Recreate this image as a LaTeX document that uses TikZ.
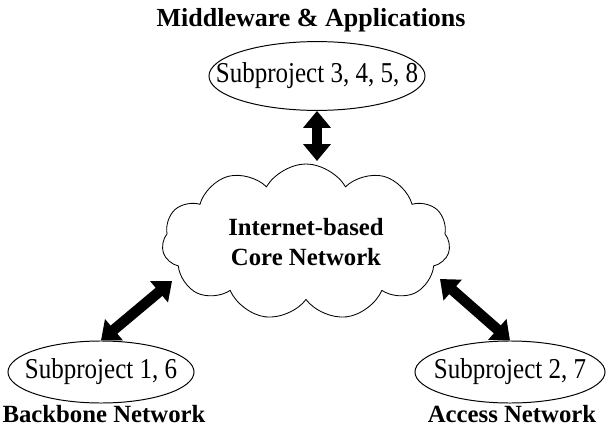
\documentclass[tikz,border=0pt]{standalone}
\usepackage{fontspec}
\setmainfont{Liberation Serif}
\usetikzlibrary{shapes.geometric,shapes.symbols,arrows.meta}

\newcommand{\subfont}{\fontsize{17.8}{20}\selectfont}
\newcommand{\netfont}{\fontsize{17.6}{21.4}\selectfont\bfseries}
\newcommand{\tall}[1]{\scalebox{1}[1.15]{#1}}

\tikzset{
  subproj/.style={ellipse, draw, line width=0.7pt, inner sep=0pt},
  every label/.style={font=\subfont, inner sep=0pt},
  netlabel/.style={font=\netfont, inner sep=0pt},
  link/.style={line width=7.5pt, {Triangle[length=12pt,width=19pt]}-{Triangle[length=12pt,width=19pt]}},
}

\begin{document}
\begin{tikzpicture}[x=0.025cm, y=-0.025cm]
\useasboundingbox (0,0) rectangle (608,428);

% the three groups of subprojects
\node[subproj, minimum width=5.4cm, minimum height=1.72cm,
      label={center:\tall{Subproject 3, 4, 5, 8}}] (sub3) at (317,76) {};
\node[subproj, minimum width=4.65cm, minimum height=1.55cm,
      label={center:\tall{Subproject 1, 6}}] (sub1) at (101,372) {};
\node[subproj, minimum width=4.75cm, minimum height=1.55cm,
      label={center:\tall{Subproject 2, 7}}] (sub2) at (510,372) {};

\node[netlabel, font=\fontsize{18.5}{22}\selectfont\bfseries] (mid) at (311,20) {Middleware \& Applications};
\node[netlabel] (bb) at (104,414) {Backbone Network};
\node[netlabel] (acc) at (512,414) {Access Network};

% core network cloud
\node[cloud, draw, line width=0.6pt, cloud puffs=11, cloud puff arc=120, aspect=1.9,
      minimum width=7.2cm, minimum height=3.9cm, align=center, font=\netfont] (core) at (306,242)
      {Internet-based\\Core Network};

\coordinate (c3) at (317,161);
\coordinate (c1) at (172,281);
\coordinate (c2) at (440,279);

\draw[link] (sub3.south) -- (c3);
\draw[link] (c1) -- (sub1.north);
\draw[link] (c2) -- (sub2.north);
\end{tikzpicture}
\end{document}
